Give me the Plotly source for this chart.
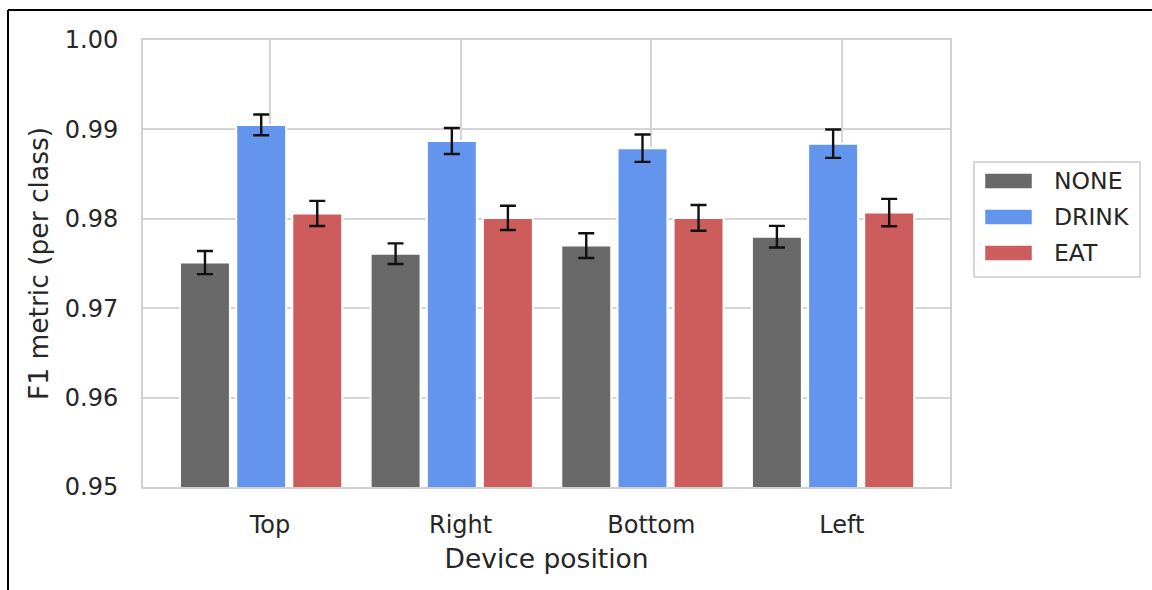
import plotly.graph_objects as go

# ---- data ----
positions = ["Top", "Right", "Bottom", "Left"]
classes = ["NONE", "DRINK", "EAT"]
none_vals = [0.9751, 0.9761, 0.9770, 0.9780]
drink_vals = [0.9905, 0.9887, 0.9879, 0.9884]
eat_vals = [0.9806, 0.9801, 0.9801, 0.9807]
none_err = [0.00129, 0.00115, 0.00138, 0.00121]
drink_err = [0.00116, 0.00145, 0.00153, 0.00159]
eat_err = [0.00140, 0.00136, 0.00144, 0.00153]
y_ticks = [0.95, 0.96, 0.97, 0.98, 0.99, 1.00]

colors = ["#696969", "#6495ED", "#CD5C5C"]
values = [none_vals, drink_vals, eat_vals]
errors = [none_err, drink_err, eat_err]
offsets = [-0.341, -0.046, 0.248]
bar_w = 0.262

W, H = 1152, 590
L, R, T, B = 143, 202, 40, 103
PW, PH = W - L - R, H - T - B
FONT = "DejaVu Sans"
TXT = "#262626"


def px(x):
    return (x - L) / PW


def py(y):
    return (H - B - y) / PH


fig = go.Figure()
cat_x = list(range(len(positions)))
for name, vals, errs, col, off in zip(classes, values, errors, colors, offsets):
    fig.add_trace(go.Bar(
        x=[c + off for c in cat_x], y=vals, width=bar_w, name=name,
        marker=dict(color=col, line=dict(color="white", width=2)),
        error_y=dict(type="data", array=errs, visible=True, color="#111111",
                     thickness=2.4, width=8),
        showlegend=False,
    ))

shapes = []
annotations = []
# custom legend (box + swatches + labels)
shapes.append(dict(type="rect", xref="paper", yref="paper",
                   x0=px(974), x1=px(1140), y0=py(277), y1=py(162),
                   line=dict(color="#cccccc", width=1.5), fillcolor="white"))
row_y = [181, 217, 253]
for name, col, ry in zip(classes, colors, row_y):
    shapes.append(dict(type="rect", xref="paper", yref="paper",
                       x0=px(985), x1=px(1032), y0=py(ry + 7.5), y1=py(ry - 7.5),
                       line=dict(color="white", width=0.5), fillcolor=col))
    annotations.append(dict(xref="paper", yref="paper", x=px(1052), y=py(ry),
                            text=name, showarrow=False, xanchor="left", yanchor="middle",
                            font=dict(family=FONT, size=23.5, color=TXT)))
# black frame lines (top and left)
shapes.append(dict(type="line", xref="paper", yref="paper",
                   x0=px(8), x1=px(1152), y0=py(10), y1=py(10),
                   line=dict(color="black", width=2)))
shapes.append(dict(type="line", xref="paper", yref="paper",
                   x0=px(8), x1=px(8), y0=py(10), y1=py(590),
                   line=dict(color="black", width=2)))

fig.update_layout(
    width=W, height=H,
    margin=dict(l=L, r=R, t=T, b=B, pad=0),
    paper_bgcolor="white", plot_bgcolor="white",
    barmode="overlay",
    font=dict(family=FONT, size=24, color=TXT),
    shapes=shapes, annotations=annotations,
    xaxis=dict(
        range=[-0.666, 3.567], tickmode="array", tickvals=cat_x, ticktext=positions,
        showgrid=True, gridcolor="#d5d5d5", gridwidth=2,
        showline=True, linecolor="#d0d0d0", linewidth=2, mirror=True,
        ticks="outside", ticklen=15, tickcolor="rgba(0,0,0,0)",
        tickfont=dict(family=FONT, size=24, color=TXT),
        title=dict(text="Device position", font=dict(family=FONT, size=26.5, color=TXT), standoff=12),
        zeroline=False,
    ),
    yaxis=dict(
        range=[0.95, 1.0], tickmode="array", tickvals=y_ticks,
        ticktext=[f"{v:.2f}" for v in y_ticks],
        showgrid=True, gridcolor="#d5d5d5", gridwidth=2,
        showline=True, linecolor="#d0d0d0", linewidth=2, mirror=True,
        ticks="outside", ticklen=18, tickcolor="rgba(0,0,0,0)",
        tickfont=dict(family=FONT, size=24, color=TXT),
        title=dict(text="F1 metric (per class)", font=dict(family=FONT, size=26.5, color=TXT), standoff=8),
        zeroline=False,
    ),
)

fig.write_html("out.html")
